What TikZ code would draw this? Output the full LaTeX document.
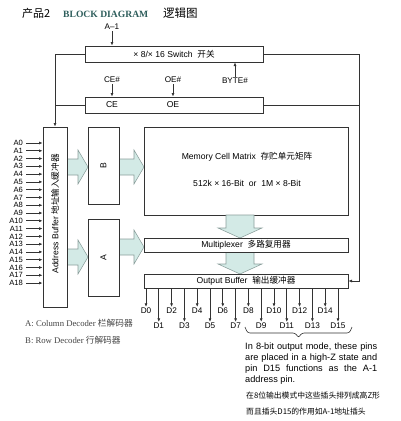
\documentclass[tikz,border=0pt]{standalone}
\usepackage{fontspec}
\setmainfont{Liberation Sans}
\newfontfamily\serifrm{Liberation Serif}
\newfontfamily\cjk{Noto Sans CJK SC}
\usetikzlibrary{arrows.meta,calc}
\definecolor{linec}{HTML}{333333}
\definecolor{fatc}{HTML}{D3EAE6}
\definecolor{fatl}{HTML}{8A9E9B}
\definecolor{titlec}{HTML}{2E5E5C}
\definecolor{legc}{HTML}{444444}
\newcommand{\bxfont}{\fontsize{8.6}{10}\selectfont}
\newcommand{\sgfont}{\fontsize{8.2}{10}\selectfont}
\newcommand{\adfont}{\fontsize{7.6}{9}\selectfont}
\newcommand{\ntfont}{\fontsize{9.2}{11}\selectfont}
\newcommand{\fatR}[2]{\filldraw[fat] let \p1=(#1), \p2=(#2) in (\x1,\y1+8pt) -- (\x2-10pt,\y1+8pt) -- (\x2-10pt,\y1+17pt) -- (\x2,\y1) -- (\x2-10pt,\y1-17pt) -- (\x2-10pt,\y1-8pt) -- (\x1,\y1-8pt) -- cycle;}
\newcommand{\fatD}[2]{\filldraw[fat] let \p1=(#1), \p2=(#2) in (\x1-14pt,\y1) -- (\x1-14pt,\y2+10pt) -- (\x1-22pt,\y2+10pt) -- (\x1,\y2) -- (\x1+22pt,\y2+10pt) -- (\x1+14pt,\y2+10pt) -- (\x1+14pt,\y1) -- cycle;}
\begin{document}
\begin{tikzpicture}[x=1pt,y=-1pt,
  boxst/.style={draw=linec, line width=0.8pt, fill=white, inner sep=0pt, font=\bxfont},
  sig/.style={inner sep=1pt, font=\sgfont},
  tip/.style={-{Latex[length=3.6pt,width=3pt]}},
  wire/.style={draw=linec, line width=0.7pt},
  fat/.style={fill=fatc, draw=fatl, line width=0.55pt},
  lbl/.style={inner sep=0pt, font=\bxfont},
  note/.style={inner sep=0pt, anchor=base west, font=\ntfont},
  cnote/.style={inner sep=0pt, anchor=base west, font=\cjk\fontsize{7.8}{9}\selectfont},
  leg/.style={inner sep=0pt, anchor=base west, text=legc, font=\serifrm\fontsize{8.7}{10}\selectfont}]
\useasboundingbox (0,0) rectangle (400,421);

% title
\node[inner sep=0pt, anchor=base west, font=\cjk\fontsize{11}{12}\selectfont] (t1) at (22,17) {产品2};
\node[inner sep=0pt, anchor=base west, text=titlec, font=\serifrm\bfseries\fontsize{9.6}{11}\selectfont] (t2) at (63,17) {BLOCK DIAGRAM};
\node[inner sep=0pt, anchor=base west, font=\cjk\fontsize{11.5}{12}\selectfont] (t3) at (163,17) {逻辑图};

% boxes
\node[boxst, minimum width=178pt, minimum height=16pt] (sw) at (174,54) {× 8/× 16 Switch\ \ {\cjk 开关}};
\node[boxst, minimum width=178pt, minimum height=16pt] (ce) at (174,105) {};
\node[lbl] (cet) at (112,105) {CE};
\node[lbl] (oet) at (173,105) {OE};

% fat arrows (drawn before the boxes they enter)
\coordinate (abE) at (67,167);
\coordinate (bW) at (88,167);
\coordinate (bE) at (119,167);
\coordinate (mW) at (144,167);
\coordinate (abE2) at (67,257);
\coordinate (aW) at (88,257);
\coordinate (aE) at (119,247);
\coordinate (xW) at (144,247);
\fatR{abE}{bW}
\fatR{bE}{mW}
\fatR{abE2}{aW}
\fatR{aE}{xW}

\node[boxst, minimum width=24pt, minimum height=180pt] (ab) at (55,217) {};
\node[lbl, rotate=90] (abt) at (55,214) {Address Buffer\ {\cjk 地址输入缓冲器}};
\node[boxst, minimum width=31pt, minimum height=77pt] (B) at (103.5,165.5) {\rotatebox{90}{B}};
\node[boxst, minimum width=31pt, minimum height=77pt] (A) at (103.5,257.5) {\rotatebox{90}{A}};
\node[boxst, minimum width=204pt, minimum height=88pt] (mem) at (246,171) {};
\node[lbl] (mt1) at (247,157) {Memory Cell Matrix\ \ {\cjk 存贮单元矩阵}};
\node[lbl] (mt2) at (247,183) {512k × 16-Bit\ \ or\ \ 1M × 8-Bit};

\coordinate (memS) at (240,215);
\coordinate (muxN) at (240,238);
\coordinate (muxS) at (240,252);
\coordinate (obN) at (240,274);
\fatD{memS}{muxN}
\fatD{muxS}{obN}
\node[boxst, minimum width=204pt, minimum height=14pt] (mux) at (246,245) {Multiplexer\ \ {\cjk 多路复用器}};
\node[boxst, minimum width=204pt, minimum height=14pt] (ob) at (246,281) {Output Buffer\ \ {\cjk 输出缓冲器}};

% top signals
\node[sig] (am1) at (112,27) {A–1};
\draw[wire,tip] (am1.south) -- (am1.south |- sw.north);
\node[sig] (ceh) at (112,80) {CE\#};
\draw[wire,tip] (ceh.south) -- (ceh.south |- ce.north);
\node[sig] (oeh) at (173,80) {OE\#};
\draw[wire,tip] (oeh.south) -- (oeh.south |- ce.north);
\node[sig] (byte) at (235,81) {BYTE\#};
\draw[wire,tip] (byte.north) -- (byte.north |- sw.south);

% loops
\draw[wire,tip] (sw.west) -| (ab.north);
\draw[wire] (ce.west) -- (ce.west -| ab.north);
\coordinate (rc) at ($(sw.east)+(96,0)$);
\draw[wire] (sw.east) -- (rc);
\draw[wire,tip] (rc) |- (ob.east);
\draw[wire] (ce.east) -- (ce.east -| rc);

% address inputs
\foreach \i in {0,...,18} {
  \pgfmathsetmacro\yy{143+7.78*\i}
  \node[inner sep=0pt, anchor=east, font=\adfont] (a\i) at (23,\yy) {A\i};
  \draw[wire,tip,shorten <=3pt] (a\i.east) -- (a\i.east -| ab.west);
}

% data outputs
\foreach \i in {0,...,15} {
  \pgfmathsetmacro\xx{146+12.8*\i}
  \pgfmathsetmacro\yy{mod(\i,2)==1 ? 326 : 311}
  \node[sig] (d\i) at (\xx,\yy) {D\i};
  \draw[wire,tip] (d\i |- ob.south) -- (d\i.north);
}

% brace
\draw[wire, line width=0.6pt, rounded corners=2.5pt] (245,327) -- (247.5,333) -- (295.5,333) -- (298.5,338) -- (301.5,333) -- (349.5,333) -- (352,327);

% note
\node[note] (n1) at (245,349) {\makebox[132pt][s]{In 8-bit output mode, these pins}};
\node[note] (n2) at (245,360) {\makebox[132pt][s]{are placed in a high-Z state and}};
\node[note] (n3) at (245,371) {\makebox[132pt][s]{pin D15 functions as the A-1}};
\node[note] (n4) at (245,382) {address pin.};
\node[cnote] (n5) at (246,398) {在8位输出模式中这些插头排列成高Z形};
\node[cnote] (n6) at (246,414) {而且插头D15的作用如A-1地址插头};

% legend
\node[leg] (l1) at (25,326) {A: Column Decoder {\cjk 栏解码器}};
\node[leg] (l2) at (25,343) {B: Row Decoder {\cjk 行解码器}};
\end{tikzpicture}
\end{document}
